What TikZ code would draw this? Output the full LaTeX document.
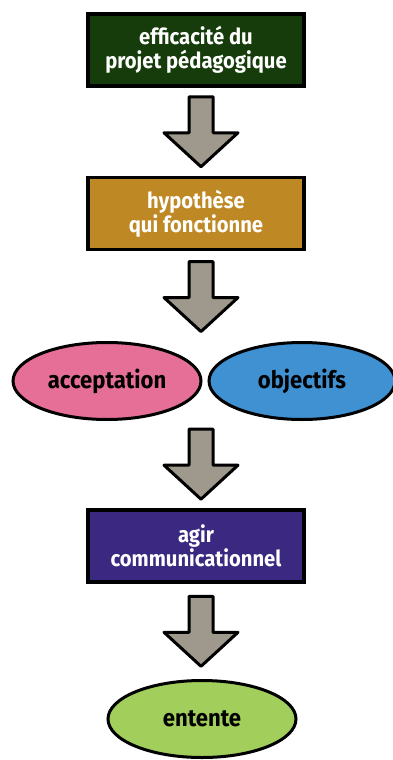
\documentclass[tikz,border=0pt]{standalone}
\usepackage{fontspec}
\setmainfont{Fira Sans}
\newfontfamily\diagfont[FakeStretch=0.92]{Fira Sans}
\usetikzlibrary{shapes.geometric,calc}
\definecolor{boxgreen}{HTML}{163C0B}
\definecolor{boxgold}{HTML}{BE8924}
\definecolor{boxpurple}{HTML}{3B2880}
\definecolor{elpink}{HTML}{E66F98}
\definecolor{elblue}{HTML}{3F91D2}
\definecolor{elgreen}{HTML}{A2CF5B}
\definecolor{arrgray}{HTML}{9E998C}
\tikzset{
  titlebox/.style={draw=black, line width=3.2pt, minimum width=216pt, minimum height=72pt,
    text=white, font=\diagfont\fontsize{22}{24}\selectfont\bfseries, align=center, inner sep=0pt},
  bubble/.style={ellipse, draw=black, line width=3pt, minimum width=188pt, minimum height=77pt,
    font=\diagfont\fontsize{24}{26}\selectfont\bfseries, inner sep=0pt},
  fatarrow/.style={fill=arrgray, draw=black, line width=3pt, line join=round}
}
\newcommand{\fatarrowbetween}[2]{%
  \path[fatarrow] let \p1=(#1), \p2=(#2), \n1={(\y1+\y2)/2} in
    (189pt,\n1+35pt) -- (213pt,\n1+35pt) -- (213pt,\n1-1pt) -- (238pt,\n1-1pt)
    -- (201pt,\n1-35pt) -- (164pt,\n1-1pt) -- (189pt,\n1-1pt) -- cycle;}
\begin{document}
\begin{tikzpicture}[x=1pt,y=-1pt]
\useasboundingbox (0,0) rectangle (392,760);
\node[titlebox, fill=boxgreen] (b1) at (196,50) {efficacité du\\projet pédagogique};
\node[titlebox, fill=boxgold] (b2) at (196,213.5) {hypothèse\\qui fonctionne};
\node[bubble, fill=elpink] (acc) at (107,381) {acceptation};
\node[bubble, fill=elblue, minimum width=186pt] (obj) at (302,381) {objectifs};
\coordinate (eltop) at (201,342);
\coordinate (elbot) at (201,420);
\node[titlebox, fill=boxpurple] (b3) at (196,546) {agir\\communicationnel};
\node[bubble, fill=elgreen] (ent) at (202,719) {entente};
\fatarrowbetween{b1.south}{b2.north}
\fatarrowbetween{b2.south}{eltop}
\fatarrowbetween{elbot}{b3.north}
\fatarrowbetween{b3.south}{ent.north}
\end{tikzpicture}
\end{document}
